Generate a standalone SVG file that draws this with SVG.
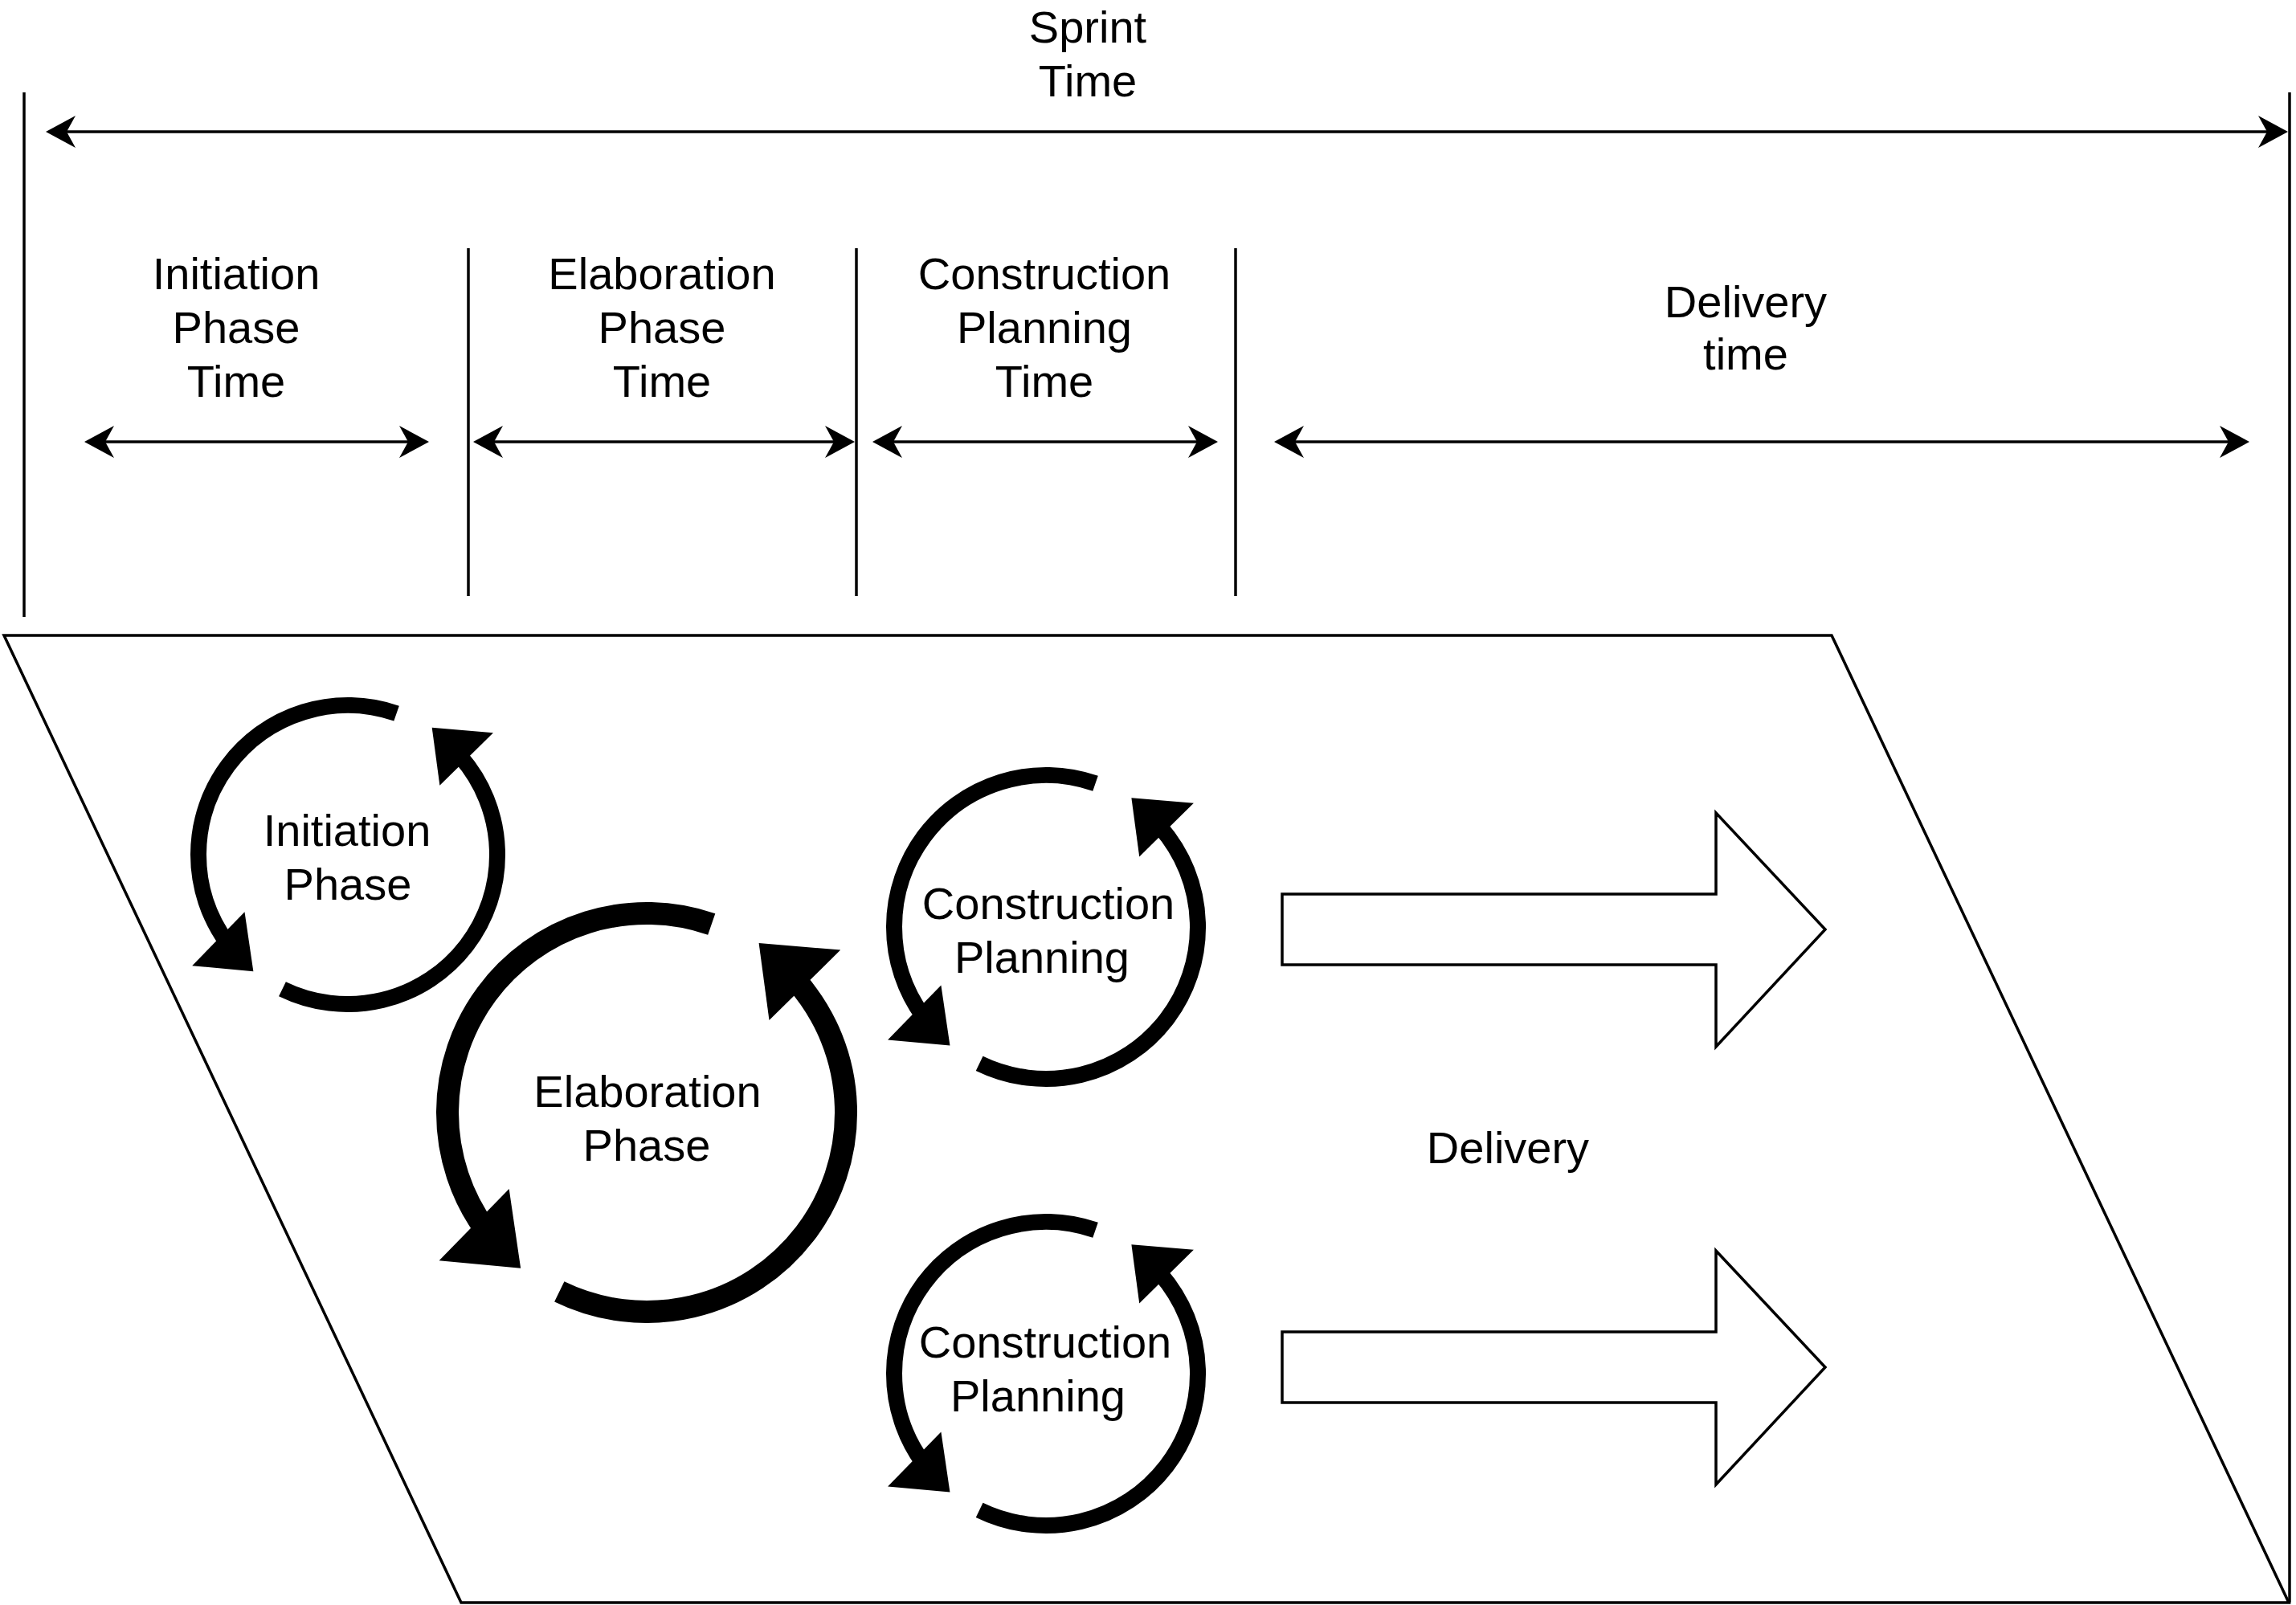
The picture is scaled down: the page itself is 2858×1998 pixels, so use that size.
<svg xmlns="http://www.w3.org/2000/svg" xmlns:xlink="http://www.w3.org/1999/xlink" width="2858" height="1998" viewBox="0 0 2858 1998">
<style>
.ln{stroke:#000;stroke-width:3.5;fill:none}
.tx{font-family:"Liberation Sans",Arial,sans-serif;font-size:56px;fill:#000;text-anchor:middle}
.blk{fill:#fff;stroke:#000;stroke-width:3.5;stroke-linejoin:miter}
</style>
<defs>
<marker id="ah" viewBox="0 -20 37 40" refX="11" refY="0" markerWidth="37" markerHeight="40" markerUnits="userSpaceOnUse" orient="auto-start-reverse">
<path d="M37,0 L0,-20 L11,0 L0,20 Z" fill="#000"/>
</marker>
<g id="cyc">
<path d="M32.56,-94.55 A100,100 0 0 0 -80.90,58.78" fill="none" stroke="#000"/>
<path d="M-43.84,89.88 A100,100 0 0 0 75.47,-65.61" fill="none" stroke="#000"/>
<polygon points="-63.25,78.10 -104.20,74.33 -69.09,38.30" fill="#000"/>
<polygon points="56.29,-85.06 97.29,-81.63 61.49,-46.34" fill="#000"/>
</g>
</defs>
<rect width="2858" height="1998" fill="#fff"/>

<g id="delivery-area">
<polygon points="5,791 2280,791 2849,1995 574,1995" fill="#fff" stroke="#000" stroke-width="3.5"/>
<text class="tx" x="1877" y="1448">Delivery</text>
</g>

<g id="dividers">
<line class="ln" x1="30" y1="115" x2="30" y2="768"/>
<line class="ln" x1="2850" y1="115" x2="2850" y2="1995"/>
<line class="ln" x1="583" y1="309" x2="583" y2="742"/>
<line class="ln" x1="1066" y1="309" x2="1066" y2="742"/>
<line class="ln" x1="1538" y1="309" x2="1538" y2="742"/>
</g>

<g id="connectors">
<line class="ln" x1="83" y1="164" x2="2822" y2="164" marker-start="url(#ah)" marker-end="url(#ah)"/>
<line class="ln" x1="131" y1="550" x2="508" y2="550" marker-start="url(#ah)" marker-end="url(#ah)"/>
<line class="ln" x1="615" y1="550" x2="1038" y2="550" marker-start="url(#ah)" marker-end="url(#ah)"/>
<line class="ln" x1="1112" y1="550" x2="1490" y2="550" marker-start="url(#ah)" marker-end="url(#ah)"/>
<line class="ln" x1="1612" y1="550" x2="2774" y2="550" marker-start="url(#ah)" marker-end="url(#ah)"/>
</g>

<g id="label-sprint-time">
<text class="tx" x="1354" y="53">Sprint</text>
<text class="tx" x="1354" y="120">Time</text>
</g>
<g id="label-initiation-time">
<text class="tx" x="294" y="360">Initiation</text>
<text class="tx" x="294" y="427">Phase</text>
<text class="tx" x="294" y="494">Time</text>
</g>
<g id="label-elaboration-time">
<text class="tx" x="824" y="360">Elaboration</text>
<text class="tx" x="824" y="427">Phase</text>
<text class="tx" x="824" y="494">Time</text>
</g>
<g id="label-construction-time">
<text class="tx" x="1300" y="360">Construction</text>
<text class="tx" x="1300" y="427">Planning</text>
<text class="tx" x="1300" y="494">Time</text>
</g>
<g id="label-delivery-time">
<text class="tx" x="2173" y="395">Delivery</text>
<text class="tx" x="2173" y="460">time</text>
</g>

<g id="initiation-phase">
<use xlink:href="#cyc" href="#cyc" transform="translate(433,1064) scale(1.86)" stroke-width="10.75"/>
<text class="tx" x="432" y="1053">Initiation</text>
<text class="tx" x="433" y="1120">Phase</text>
</g>
<g id="elaboration-phase">
<use xlink:href="#cyc" href="#cyc" transform="translate(805,1385) scale(2.48)" stroke-width="11.3"/>
<text class="tx" x="806" y="1378">Elaboration</text>
<text class="tx" x="805" y="1445">Phase</text>
</g>
<g id="construction-planning-1">
<use xlink:href="#cyc" href="#cyc" transform="translate(1302,1154) scale(1.89)" stroke-width="10.6"/>
<text class="tx" x="1305" y="1144">Construction</text>
<text class="tx" x="1297" y="1211">Planning</text>
</g>
<g id="construction-planning-2">
<use xlink:href="#cyc" href="#cyc" transform="translate(1302,1710) scale(1.89)" stroke-width="10.6"/>
<text class="tx" x="1301" y="1690">Construction</text>
<text class="tx" x="1292" y="1757">Planning</text>
</g>

<g id="delivery-arrow-1">
<polygon class="blk" points="1596,1113 2136,1113 2136,1012 2272,1157 2136,1303 2136,1201 1596,1201"/>
</g>
<g id="delivery-arrow-2">
<polygon class="blk" points="1596,1658 2136,1658 2136,1557 2272,1702 2136,1848 2136,1746 1596,1746"/>
</g>
</svg>
